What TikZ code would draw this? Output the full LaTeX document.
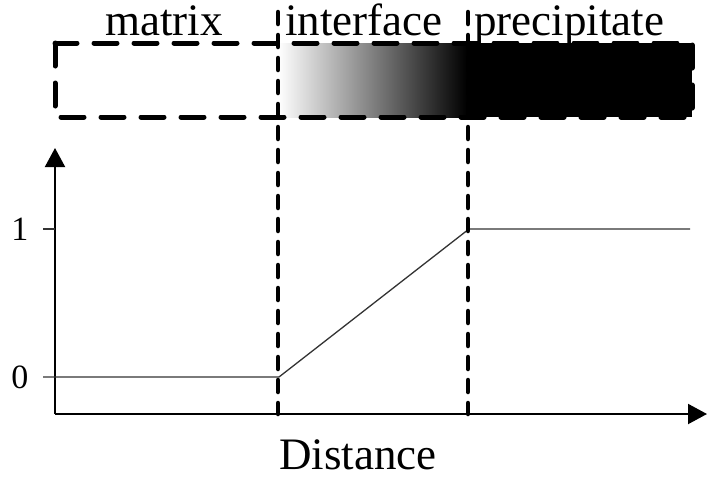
\documentclass[tikz,border=0pt]{standalone}
\usepackage{fontspec}
\setmainfont{Liberation Serif}
\usetikzlibrary{arrows.meta,positioning}
\tikzset{
  lbl/.style={inner sep=0pt,anchor=base,font=\fontsize{45}{54}\selectfont},
  ticklbl/.style={inner sep=0pt,font=\fontsize{34}{40}\selectfont},
  axis/.style={line width=2pt,-{Triangle[length=19pt,width=20pt]}},
  bound/.style={line width=4.5pt,dash pattern=on 12pt off 11pt,line cap=round},
  phasebox/.style={line width=5pt,dash pattern=on 23pt off 17pt,line cap=round},
  profile/.style={line width=1.3pt,draw=black!80},
}
\begin{document}
\begin{tikzpicture}[x=1pt,y=-1pt]
  \useasboundingbox (0,0) rectangle (707,480);
  % key points
  \coordinate (o) at (55,414);
  \coordinate (ytip) at (55,148);
  \coordinate (xtip) at (707,414);
  \coordinate (z0) at (43,377);
  \coordinate (zi) at (279,377);
  \coordinate (zp) at (469,229);
  \coordinate (zend) at (690,229);
  \coordinate (t1a) at (43,229);
  \coordinate (t1b) at (55,229);
  % phase strip
  \shade[left color=white,right color=black] (278,43) rectangle (467,117);
  \fill[black] (467,43) rectangle (692,117);
  \draw[phasebox] (55,43) rectangle (692,117);
  % phase names
  \node[lbl] (matrix) at (164,35) {matrix};
  \node[lbl] (iface) at (364,35) {interface};
  \node[lbl] (precip) at (569,35) {precipitate};
  % axes
  \draw[axis] (o) -- (ytip);
  \draw[axis] (o) -- (xtip);
  \node[lbl] (dist) at (358,469) {Distance};
  \node[ticklbl] (one) at (20,229) {1};
  \node[ticklbl] (zero) at (20,377) {0};
  \draw[profile] (t1a) -- (t1b);
  \draw[profile] (z0) -- (zi) -- (zp) -- (zend);
  % phase boundaries
  \coordinate (b1top) at (278,12);
  \coordinate (b1bot) at (278,414);
  \coordinate (b2top) at (468,12);
  \coordinate (b2bot) at (468,414);
  \draw[bound] (b1top) -- (b1bot);
  \draw[bound] (b2top) -- (b2bot);
\end{tikzpicture}
\end{document}
